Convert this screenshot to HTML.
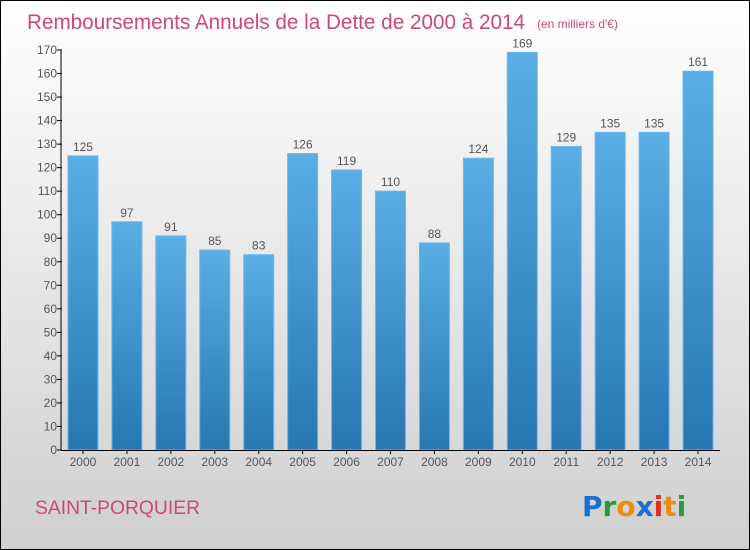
<!DOCTYPE html>
<html><head><meta charset="utf-8"><style>
body{margin:0;width:750px;height:550px;overflow:hidden}
svg{display:block;font-family:"Liberation Sans",sans-serif}
</style></head><body>
<svg width="750" height="550">
<defs>
<linearGradient id="bg" x1="0" y1="0" x2="0" y2="1"><stop offset="0" stop-color="#ffffff"/><stop offset="1" stop-color="#cfcfcf"/></linearGradient>
<linearGradient id="bar" x1="0" y1="0" x2="0" y2="1"><stop offset="0" stop-color="#5aaee6"/><stop offset="1" stop-color="#2677b2"/></linearGradient>
</defs>
<rect x="0.5" y="0.5" width="749" height="549" fill="url(#bg)" stroke="#000"/>
<text x="27" y="29" font-size="21" fill="#cc4a70" textLength="498" lengthAdjust="spacingAndGlyphs">Remboursements Annuels de la Dette de 2000 à 2014</text>
<text x="537" y="28" font-size="12" fill="#cc4a70">(en milliers d'€)</text>
<g id="yaxis"></g>
<g id="bars"></g>
<g id="xaxis"></g>
<text x="35" y="514" font-size="19" fill="#cc4a70" textLength="165" lengthAdjust="spacingAndGlyphs">SAINT-PORQUIER</text>
<g font-size="28" font-family="'DejaVu Sans',sans-serif" font-weight="bold">
<text x="582" y="516"><tspan fill="#1a6fd0">P</tspan><tspan fill="#2a9a3a">r</tspan><tspan fill="#f08a10">o</tspan><tspan fill="#1a6fd0">x</tspan><tspan fill="#e03020">i</tspan><tspan fill="#f08a10">t</tspan><tspan fill="#2a9a3a">i</tspan></text>
</g>
</svg>
<script>
const years=["2000","2001","2002","2003","2004","2005","2006","2007","2008","2009","2010","2011","2012","2013","2014"];
const values=[125,97,91,85,83,126,119,110,88,124,169,129,135,135,161];
const yTicks=[0,10,20,30,40,50,60,70,80,90,100,110,120,130,140,150,160,170];
const NS="http://www.w3.org/2000/svg";
const x0=61,x1=720,y0=450,yTop=50,yMax=170;
const bw=(x1-x0)/years.length;
const yS=v=>y0-(v/yMax)*(y0-yTop);
const xC=i=>x0+bw*(i+0.5);
function mk(t,a,p){const e=document.createElementNS(NS,t);for(const k in a)e.setAttribute(k,a[k]);p.appendChild(e);return e;}
const ya=document.getElementById('yaxis'),ba=document.getElementById('bars'),xa=document.getElementById('xaxis');
mk('line',{x1:x0,y1:y0,x2:x0,y2:yTop,stroke:'#000'},ya);
yTicks.forEach(v=>{
 const y=yS(v);
 const l=mk('line',{x1:x0-4,y1:y,x2:x0+1,y2:y,stroke:'#000'},ya);
 
 
 const t=mk('text',{x:x0-4,y:y+4,'text-anchor':'end','font-size':12,fill:'#555'},ya);
 t.textContent=v;
 
 
});
mk('line',{x1:x0,y1:y0+0.5,x2:x1,y2:y0+0.5,stroke:'#000'},xa);
years.forEach((yr,i)=>{
 const c=xC(i),v=values[i],top=yS(v);
 const r=mk('rect',{x:c-15,y:top,width:30,height:y0-top,fill:'url(#bar)',stroke:'#6ab8ee','stroke-width':1},ba);
 
 
 const vl=mk('text',{x:c,y:top-5,'text-anchor':'middle','font-size':12,fill:'#555'},ba);
 vl.textContent=v;
 
 
 const tk=mk('line',{x1:c,y1:y0,x2:c,y2:y0+4,stroke:'#000'},xa);
 
 
 const xl=mk('text',{x:c,y:y0+16,'text-anchor':'middle','font-size':12,fill:'#555'},xa);
 xl.textContent=yr;
 
 
});
</script>
</body></html>
